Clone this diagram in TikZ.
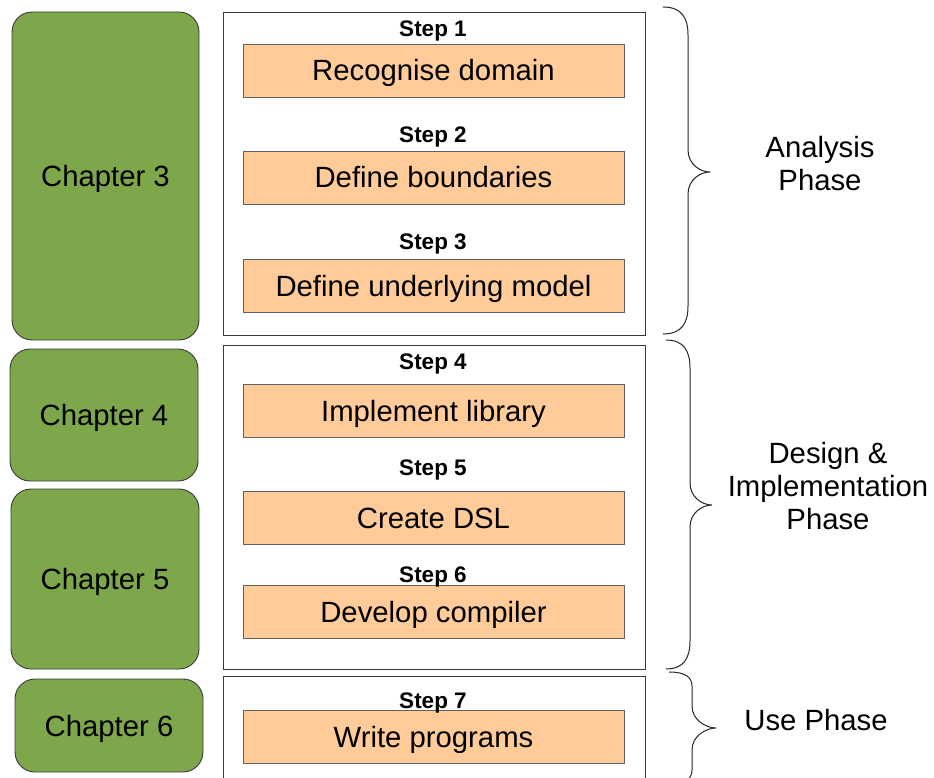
\documentclass[tikz,border=0pt]{standalone}
\usepackage{fontspec}
\setmainfont{Liberation Sans}
\definecolor{chapgreen}{HTML}{7EA64A}
\definecolor{steporange}{HTML}{FFCC99}
\definecolor{edgegray}{HTML}{3A3A3A}
\tikzset{
  chapter/.style={draw=edgegray, fill=chapgreen, rounded corners=20pt, line width=0.9pt,
    inner sep=0pt, text height=21pt, text depth=0pt, font=\fontsize{29.3}{33}\selectfont},
  frame/.style={draw=edgegray, fill=white, line width=0.9pt, inner sep=0pt},
  stepbox/.style={draw=black!62, fill=steporange, line width=0.9pt, inner sep=0pt,
    minimum width=381pt, minimum height=53pt, text height=21pt, text depth=0pt,
    font=\fontsize{29.3}{33}\selectfont},
  steplabel/.style={inner sep=0pt, text height=16.5pt, text depth=0pt,
    font=\bfseries\fontsize{22.5}{24}\selectfont},
  phase/.style={align=center, inner sep=0pt, font=\fontsize{29.3}{33}\selectfont},
  bracepath/.style={draw=black!85, line width=1pt}
}
% curly brace: ends at x0, spine at xv, tip at xt; r = length of end curves
\newcommand\phasebrace[7]{%
  \draw[bracepath] (#1,#4)
    .. controls ({#2-6},#4) and (#2,{#4+0.4*#7}) .. (#2,{#4+#7})
    -- (#2,{#5-22})
    .. controls (#2,{#5-8}) and ({#3-10},#5) .. (#3,#5)
    .. controls ({#3-10},#5) and (#2,{#5+8}) .. (#2,{#5+22})
    -- (#2,{#6-#7})
    .. controls (#2,{#6-0.4*#7}) and ({#2-6},#6) .. (#1,#6);}
\begin{document}
\begin{tikzpicture}[x=1pt,y=-1pt]
  \useasboundingbox (0,0) rectangle (934,778);

  % chapter blocks
  \node[chapter, minimum width=187pt, minimum height=328pt] (ch3) at (105.5,176) {Chapter 3};
  \node[chapter, minimum width=188pt, minimum height=132pt] (ch4) at (104,415) {Chapter 4};
  \node[chapter, minimum width=188pt, minimum height=180pt] (ch5) at (105,579) {Chapter 5};
  \node[chapter, minimum width=188pt, minimum height=93pt]  (ch6) at (109,725.5) {Chapter 6};

  % phase frames
  \node[frame, minimum width=422pt, minimum height=323pt] (fr1) at (434,173.5) {};
  \node[frame, minimum width=422pt, minimum height=324pt] (fr2) at (434,507) {};
  \node[frame, minimum width=422pt, minimum height=102pt] (fr3) at (434,727) {};

  % steps
  \node[stepbox] (s1) at (433.5,70.5) {Recognise domain};
  \node[stepbox] (s2) at (433.5,177.5) {Define boundaries};
  \node[stepbox] (s3) at (433.5,286) {Define underlying model};
  \node[stepbox] (s4) at (433.5,410.5) {Implement library};
  \node[stepbox] (s5) at (433.5,517.5) {Create DSL};
  \node[stepbox] (s6) at (433.5,612) {Develop compiler};
  \node[stepbox] (s7) at (433.5,736.5) {Write programs};

  \node[steplabel] (l1) at (433,28) {Step 1};
  \node[steplabel] (l2) at (433,134) {Step 2};
  \node[steplabel] (l3) at (433,241) {Step 3};
  \node[steplabel] (l4) at (433,361) {Step 4};
  \node[steplabel] (l5) at (433,467) {Step 5};
  \node[steplabel] (l6) at (433,574) {Step 6};
  \node[steplabel] (l7) at (433,700) {Step 7};

  % braces and phase names
  \phasebrace{663}{688}{710}{7}{172}{334}{28}
  \phasebrace{666}{690}{712}{340}{505}{669}{28}
  \phasebrace{669}{692}{716}{672}{728}{784}{14}

  \node[phase] (p1) at (820,164) {Analysis\\Phase};
  \node[phase] (p2) at (828,486) {Design \&\\Implementation\\Phase};
  \node[phase] (p3) at (816,720) {Use Phase};
\end{tikzpicture}
\end{document}
